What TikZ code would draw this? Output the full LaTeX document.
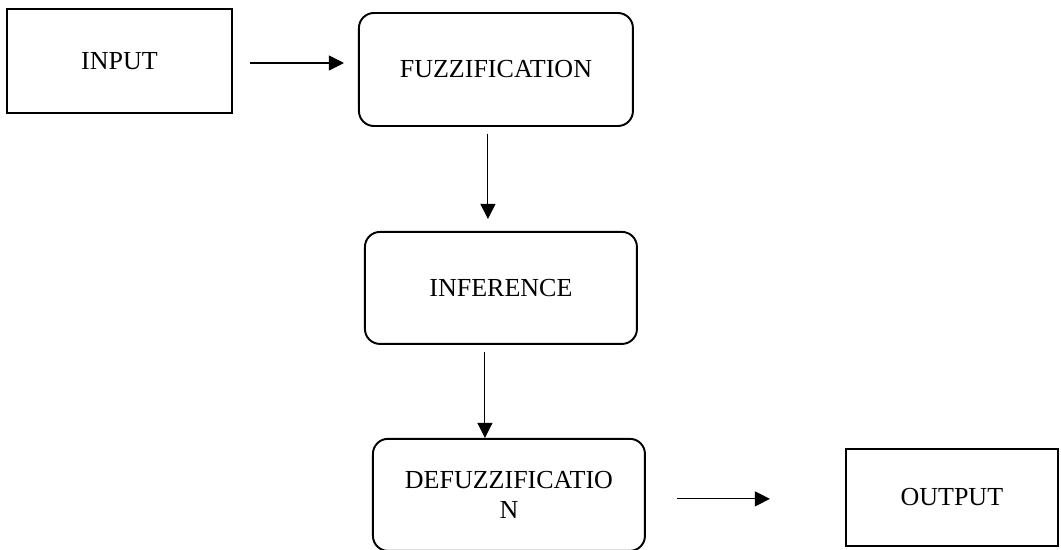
\documentclass[tikz,border=0pt]{standalone}
\usepackage{fontspec}
\setmainfont{Liberation Serif}
\usetikzlibrary{arrows.meta, positioning}
\tikzset{
    box/.style={
        draw,
        line width=1.1pt,
        rounded corners=0.3cm,
        minimum width=5.44cm,
        minimum height=2.24cm,
        align=center
    },
    plainbox/.style={
        draw,
        line width=1.1pt,
        align=center
    },
    line/.style={-{Triangle[length=0.3cm, width=0.3cm]}, line width=0.6pt},
    every node/.style={font=\fontsize{14.8}{17}\selectfont}
}
\begin{document}
\begin{tikzpicture}
\useasboundingbox (0,0) rectangle (21.22,-11);

\node[plainbox, minimum width=4.5cm, minimum height=2.08cm] (input) at (2.39,-1.22) {INPUT};
\node[box, minimum width=5.48cm, minimum height=2.26cm, right=2.5cm of input, yshift=-0.17cm] (fuzz) {FUZZIFICATION};
\node[box, below=2.08cm of fuzz, xshift=0.1cm] (infer) {INFERENCE};
\node[box, below=1.86cm of infer, xshift=0.16cm] (defuzz) {DEFUZZIFICATIO\\N};
\node[plainbox, minimum width=4.24cm, minimum height=1.94cm, right=3.98cm of defuzz, yshift=-0.05cm] (output) {OUTPUT};

% arrows stop short of the boxes
\draw[line, shorten <=0.34cm, shorten >=0.28cm] ([yshift=-0.04cm]input.east) -- ([yshift=-0.04cm]fuzz.west |- input.east);
\draw[line, shorten <=0.14cm, shorten >=0.24cm] ([xshift=-0.16cm]fuzz.south) -- ([xshift=-0.16cm]fuzz.south |- infer.north);
\draw[line, shorten <=0.14cm] ([xshift=-0.32cm]infer.south) -- ([xshift=-0.32cm]infer.south |- defuzz.north);
\draw[line, shorten <=0.62cm, shorten >=1.5cm] ([yshift=-0.08cm]defuzz.east) -- ([yshift=-0.08cm]output.west |- defuzz.east);
\end{tikzpicture}
\end{document}
